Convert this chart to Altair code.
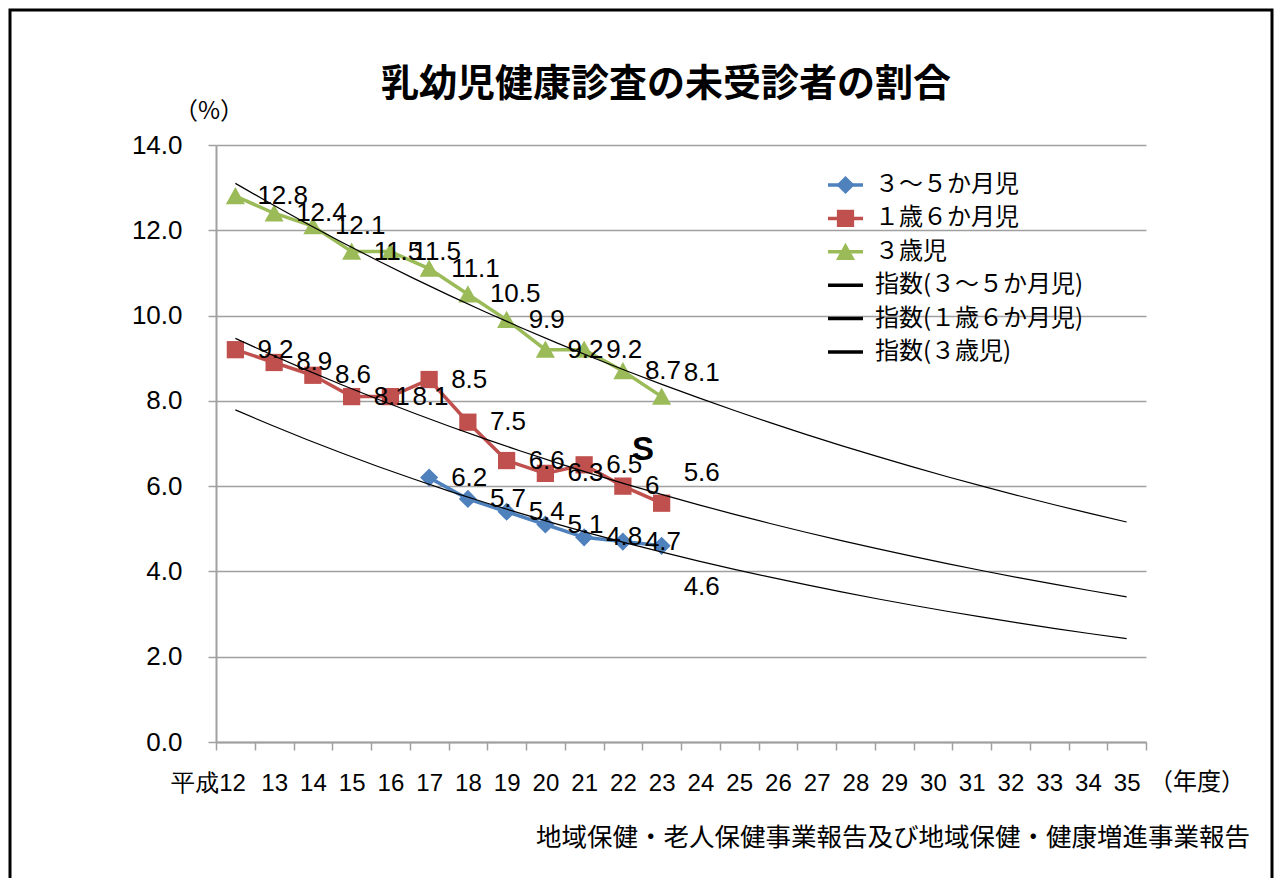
import json
import altair as alt
import pandas as pd

# ---- data ----
years = [12, 13, 14, 15, 16, 17, 18, 19, 20, 21, 22, 23]
infant_3_5m = [None, None, None, None, None, 6.2, 5.7, 5.4, 5.1, 4.8, 4.7, 4.6]
toddler_1y6m = [9.2, 8.9, 8.6, 8.1, 8.1, 8.5, 7.5, 6.6, 6.3, 6.5, 6.0, 5.6]
child_3y = [12.8, 12.4, 12.1, 11.5, 11.5, 11.1, 10.5, 9.9, 9.2, 9.2, 8.7, 8.1]

series_names = ["３～５か月児", "１歳６か月児", "３歳児"]
trend_names = ["指数(３～５か月児)", "指数(１歳６か月児)", "指数(３歳児)"]
series_colors = ["#4F81BD", "#C0504D", "#9BBB59"]
trend_color = "#000000"

x_labels = ["平成12", "13", "14", "15", "16", "17", "18", "19", "20", "21", "22", "23",
            "24", "25", "26", "27", "28", "29", "30", "31", "32", "33", "34", "35"]
y_ticks = [0, 2, 4, 6, 8, 10, 12, 14]
trend_extent = [12, 35]

title_text = "乳幼児健康診査の未受診者の割合"
y_unit = "（%）"
x_unit = "（年度）"
source_text = "地域保健・老人保健事業報告及び地域保健・健康増進事業報告"
stray_mark = "S"

# ---- tables ----
rows = []
for name, vals in zip(series_names, [infant_3_5m, toddler_1y6m, child_3y]):
    for yr, v in zip(years, vals):
        if v is not None:
            rows.append({"name": name, "year": yr, "value": v})
df = pd.DataFrame(rows)
all_names = series_names + trend_names
legend_df = pd.DataFrame({"name": all_names})
one = pd.DataFrame({"k": [0]})

JP = "Noto Sans CJK JP"
NUM = "Liberation Sans"
GRAY = "#A0A0A0"

diamond = "M0,-1L1,0L0,1L-1,0Z"
square = "M-0.95,-0.95H0.95V0.95H-0.95Z"
triangle = "M0,-1L1.05,0.9H-1.05Z"
series_shapes = [diamond, square, triangle]

color_scale = alt.Scale(domain=all_names, range=series_colors + [trend_color] * 3)
C = alt.Color("name:N", scale=color_scale, legend=None)

tick_vals = [11.5 + i for i in range(25)]
label_expr = ("datum.value < 35 ? " + json.dumps(x_labels, ensure_ascii=False)
              + "[round(datum.value - 11.5)] : ''")

x_axis = alt.Axis(
    values=tick_vals, labelExpr=label_expr,
    labelOffset={"condition": {"test": "datum.value < 12", "value": -8}, "value": 19.375},
    tickSize=8, tickColor=GRAY, tickWidth=1.5, domainColor=GRAY, domainWidth=2,
    grid=False, labelFontSize=24, labelFont=NUM, labelColor="black",
    labelBaseline="middle", labelPadding=33, labelAngle=0, labelOverlap=False,
    labelFlush=False, title=None,
)
y_axis = alt.Axis(
    values=y_ticks, format=".1f", tickSize=8, tickColor=GRAY, tickWidth=1.5,
    domainColor=GRAY, domainWidth=2, grid=True, gridColor=GRAY, gridWidth=1.5,
    labelFontSize=26, labelFont=NUM, labelColor="black", labelPadding=26,
    labelFlush=False, title=None,
)

X = alt.X("year:Q", scale=alt.Scale(domain=[11.5, 35.5], nice=False, zero=False), axis=x_axis)
Y = alt.Y("value:Q", scale=alt.Scale(domain=[0, 14], nice=False, zero=True), axis=y_axis)

base = alt.Chart(df)

lines = base.mark_line(strokeWidth=3.5).encode(x=X, y=Y, color=C)

points = [
    base.transform_filter(f"datum.name == '{n}'")
    .mark_point(filled=True, size=330, strokeWidth=0, opacity=1, shape=s, color=c)
    .encode(x=X, y=Y)
    for n, s, c in zip(series_names, series_shapes, series_colors)
]

trend = (
    base.transform_regression("year", "value", groupby=["name"], method="exp", extent=trend_extent)
    .transform_calculate(name="'指数(' + datum.name + ')'")
    .mark_line(strokeWidth=1.2)
    .encode(x=X, y=Y, color=C)
)

label_style = dict(align="left", baseline="middle", dx=22, fontSize=26, font=NUM, color="black")
labels = base.transform_filter("datum.year < 23").mark_text(**label_style).encode(
    x=X, y=Y, text=alt.Text("value:Q", format="~g")
)
last_dy = {series_names[0]: 41, series_names[1]: -30, series_names[2]: -24}
last_labels = [
    base.transform_filter(f"datum.year == 23 && datum.name == '{n}'")
    .mark_text(**{**label_style, "dy": d})
    .encode(x=X, y=Y, text=alt.Text("value:Q", format="~g"))
    for n, d in last_dy.items()
]

plot = alt.layer(lines, *points, trend, labels, *last_labels)

# ---- legend drawn from the same names through an ordinal scale ----
LY = alt.Y("name:N", scale=alt.Scale(domain=all_names, type="point", range=[40, 207], padding=0), axis=None)
lbase = alt.Chart(legend_df)
leg_rule = lbase.mark_rule().encode(
    x=alt.value(612), x2=alt.value(647), y=LY, color=C,
    strokeWidth=alt.StrokeWidth("name:N", legend=None,
                                scale=alt.Scale(domain=all_names, range=[3.5, 3.5, 3.5, 1.3, 1.3, 1.3])),
)
leg_pts = lbase.transform_filter(alt.FieldOneOfPredicate(field="name", oneOf=series_names)).mark_point(
    filled=True, size=330, strokeWidth=0, opacity=1
).encode(
    x=alt.value(629.5), y=LY, color=C,
    shape=alt.Shape("name:N", scale=alt.Scale(domain=series_names, range=series_shapes), legend=None),
)
leg_txt = lbase.mark_text(align="left", baseline="middle", font=JP, fontSize=24, color="black").encode(
    x=alt.value(659), y=LY, text="name:N"
)
legend_layer = alt.layer(leg_rule, leg_pts, leg_txt)

def note(text, x, y, **kw):
    return alt.Chart(one).mark_text(text=text, **kw).encode(x=alt.value(x), y=alt.value(y))

title = note(title_text, 450, -60, font=JP, fontSize=38, fontWeight="bold",
             align="center", baseline="middle", color="black")
yunit = note(y_unit, -7, -33, font=JP, fontSize=24, align="center", baseline="middle", color="black")
xunit = note(x_unit, 981, 638, font=JP, fontSize=24, align="center", baseline="middle", color="black")
source = note(source_text, 1034, 693, font=JP, fontSize=25.5, align="right", baseline="middle", color="black")
smark = note(stray_mark, 427, 305, font=NUM, fontSize=33, fontWeight="bold",
             align="center", baseline="middle", color="black")

frame = alt.Chart(one).mark_rect(fillOpacity=0, stroke="black", strokeWidth=3).encode(
    x=alt.value(-206), x2=alt.value(1056), y=alt.value(-135), y2=alt.value(780)
)

chart = alt.layer(
    frame, plot, legend_layer, title, yunit, xunit, source, smark
).resolve_scale(y="independent").properties(
    width=930, height=597,
    autosize=alt.AutoSizeParams(type="none"),
    padding={"left": 208, "top": 137, "right": 128, "bottom": 136},
    background="white",
).configure_view(stroke=None)

chart.save("out.html", embed_options={"renderer": "svg", "actions": False})
